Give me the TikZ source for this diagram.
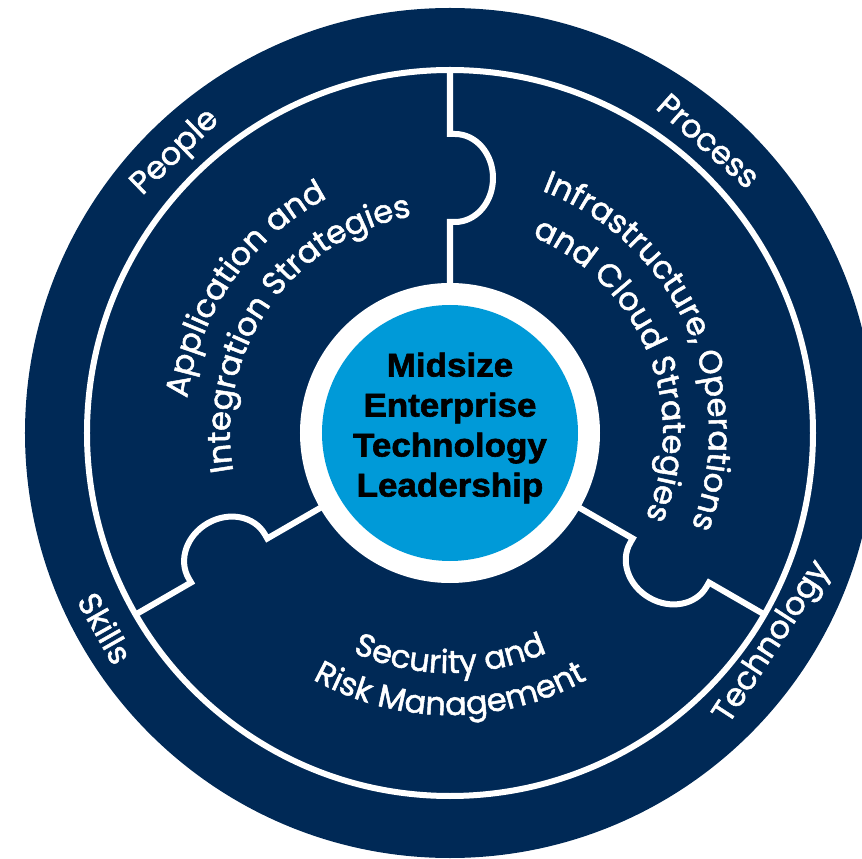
\documentclass[tikz,border=0pt]{standalone}
\usepackage{fontspec}
\setmainfont{Poppins}
\newfontfamily\labfont{Poppins}[FakeBold=1.6]
\newfontfamily\corefont{Liberation Sans}[BoldFeatures={FakeStretch=1.06, FakeBold=1.8}]
\usetikzlibrary{decorations.text}
\definecolor{mednavy}{RGB}{0,41,86}
\definecolor{medblue}{RGB}{0,154,216}
\newcommand{\ringr}{363}
\newcommand{\outr}{425}
\newcommand{\labsize}{\labfont\fontsize{32}{34}\selectfont}

\begin{document}
\begin{tikzpicture}[x=1pt,y=1pt]
        %\draw[help lines] (-450,-426) grid (412,433);
        \tikzset{
                seam/.style={white, line width=6pt},
                ringlabel/.style={text=white, font=\labsize, inner sep=0pt},
                arclabel/.style={decorate, decoration={text along path, text align=center, text={|\labsize\color{white}|#1}}}
        }
        \useasboundingbox (-450,-426) rectangle (412,433);
        \fill[mednavy] (0,0) circle[radius=\outr];
        \draw[seam] (0,0) circle[radius=\ringr];
        \foreach \a in {90,210,330}{
                \begin{scope}[rotate=\a]
                        \draw[seam] (140,0) -- (211,0) -- (211,-5) arc[start angle=180, end angle=360, x radius=44, y radius=38] -- (299,0) -- (\ringr,0);
                \end{scope}
        }
        \fill[white] (0,0) circle[radius=150];
        \node (core) [circle, fill=medblue, minimum size=256pt, inner sep=0pt] at (0,0) {};
        \node (coretext) [align=center, font=\corefont\bfseries\fontsize{33}{40}\selectfont] at ([yshift=5pt]core.center) {Midsize\\Enterprise\\Technology\\Leadership};
        \node[ringlabel, rotate=44] (people) at (134.4:392) {People};
        \node[ringlabel, rotate=-41.5] (process) at (48.5:390) {Process};
        \node[ringlabel, rotate=-60.5] (skills) at (209.5:396) {Skills};
        \node[ringlabel, rotate=57] (technology) at (-33:385) {Technology};
        \path[arclabel={Application and}] (215:265) arc[start angle=215, end angle=75, radius=265];
        \path[arclabel={Integration Strategies}] (215:220) arc[start angle=215, end angle=75, radius=220];
        \path[arclabel={Infrastructure, Operations}] (94:259) arc[start angle=94, end angle=-46, radius=259];
        \path[arclabel={and Cloud Strategies}] (92:213) arc[start angle=92, end angle=-48, radius=213];
        \path[arclabel={Security and}] (200:240) arc[start angle=200, end angle=340, radius=240];
        \path[arclabel={Risk Management}] (200:282) arc[start angle=200, end angle=340, radius=282];
\end{tikzpicture}
\end{document}
